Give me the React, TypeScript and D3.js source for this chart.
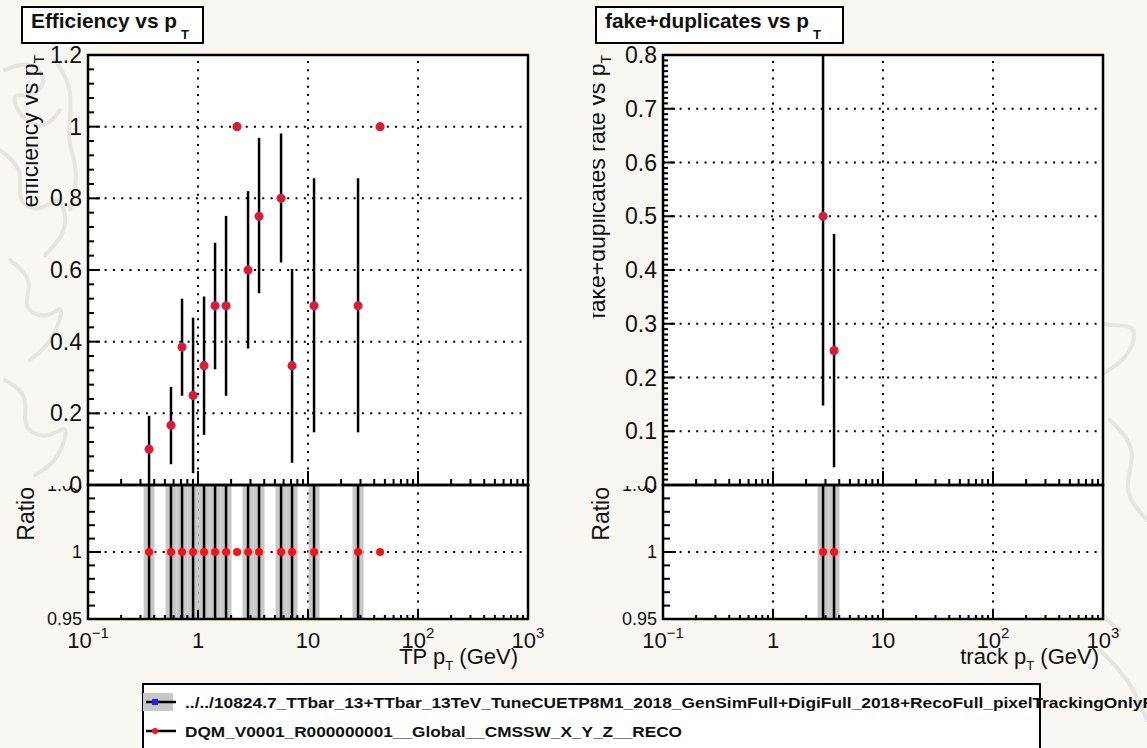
import React from "react";
import * as d3 from "d3";

// bin centres (GeV) of the pT histogram, log-spaced bins of 0.1 decade
const ptCenters = [0.359, 0.568, 0.716, 0.902, 1.135, 1.429, 1.799, 2.265, 2.851, 3.589, 5.689, 7.162, 11.35, 28.51, 45.19];
const effValues = [0.1, 0.167, 0.385, 0.25, 0.333, 0.5, 0.5, 1.0, 0.6, 0.75, 0.8, 0.333, 0.5, 0.5, 1.0];
const effLow = [0, 0.058, 0.249, 0.033, 0.14, 0.323, 0.249, 1.0, 0.381, 0.535, 0.621, 0.062, 0.147, 0.147, 1.0];
const effHigh = [0.193, 0.274, 0.52, 0.467, 0.526, 0.676, 0.751, 1.0, 0.82, 0.969, 0.981, 0.603, 0.856, 0.856, 1.0];
const effRatio = [1, 1, 1, 1, 1, 1, 1, 1, 1, 1, 1, 1, 1, 1, 1];

const fakePt = [2.851, 3.589];
const fakeValues = [0.5, 0.25];
const fakeLow = [0.148, 0.033];
const fakeHigh = [0.852, 0.467];
const fakeRatio = [1, 1];

const xTicks = [0.1, 1, 10, 100, 1000];
const effYTicks = [0, 0.2, 0.4, 0.6, 0.8, 1, 1.2];
const fakeYTicks = [0, 0.1, 0.2, 0.3, 0.4, 0.5, 0.6, 0.7, 0.8];
const ratioYTicks = [0.95, 1, 1.05];

const legendLabels = [
  "../../10824.7_TTbar_13+TTbar_13TeV_TuneCUETP8M1_2018_GenSimFull+DigiFull_2018+RecoFull_pixelTrackingOnlyF",
  "DQM_V0001_R000000001__Global__CMSSW_X_Y_Z__RECO",
];

const FONT = "'Liberation Sans', Arial, Helvetica, sans-serif";
const TOP = 55;
const MID = 485;
const BOT = 619;
const HALF_BIN = 0.05; // half bin width in log10

function xLabel(v: number) {
  const e = Math.round(Math.log10(v));
  if (e === 0) return <>1</>;
  if (e === 1) return <>10</>;
  return (
    <>
      10<tspan dy={-10} fontSize={15}>{e < 0 ? "\u2212" + -e : e}</tspan>
    </>
  );
}

const fmt = (v: number) => String(+v.toFixed(2));

function Panel(props: any) {
  const { id, x0, x1, title, titleX, titleW, titleTextW, yTitle, yTitleX, yClip, ratioX, xTitle, xTitleEnd, yMax, yTicks, yMinor, yMinorLen, pts, vals, lows, highs, ratios } = props;
  const x = d3.scaleLog().domain([0.1, 1000]).range([x0, x1]);
  const y = d3.scaleLinear().domain([0, yMax]).range([MID, TOP]);
  const yr = d3.scaleLinear().domain([0.95, 1.05]).range([BOT, MID]);
  const minorX = x.ticks();
  const minorY = d3.range(0, yMax + 1e-9, yMinor);
  const minorR = d3.range(0.95, 1.05 + 1e-9, 0.01);
  const relErr = vals.map((v: number, i: number) => (highs[i] - lows[i]) / 2 / v);
  const dot = "2 6.3";
  const isDecade = (v: number) => Math.abs(Math.log10(v) - Math.round(Math.log10(v))) < 1e-6;

  return (
    <g fontFamily={FONT}>
      <defs>
        <clipPath id={id + "up"}>
          <rect x={x0} y={TOP} width={x1 - x0} height={MID - TOP} />
        </clipPath>
        <clipPath id={id + "lo"}>
          <rect x={x0} y={MID} width={x1 - x0} height={BOT - MID} />
        </clipPath>
        <clipPath id={id + "yt"}>
          <rect x={yClip} y={0} width={200} height={MID} />
        </clipPath>
        <clipPath id={id + "rl"}>
          <rect x={0} y={MID + 1} width={x0} height={200} />
        </clipPath>
      </defs>

      {/* title box */}
      <rect x={titleX} y={7} width={titleW} height={36} fill="#fff" stroke="#000" strokeWidth={2} />
      <text x={titleX + 9} y={28} fontSize={21} fontWeight="bold" fill="#111" textLength={titleTextW} lengthAdjust="spacingAndGlyphs">
        {title}
      </text>
      <text x={titleX + 9 + titleTextW + 4} y={39} fontSize={13} fontWeight="bold" fill="#111">T</text>

      {/* frames */}
      <rect x={x0} y={TOP} width={x1 - x0} height={MID - TOP} fill="#fff" />
      <rect x={x0} y={MID} width={x1 - x0} height={BOT - MID} fill="#fff" />

      {/* grid */}
      <g stroke="#000" strokeWidth={2} strokeDasharray={dot}>
        {xTicks.slice(1, -1).map((t) => (
          <line key={"gv" + t} x1={x(t)} x2={x(t)} y1={BOT} y2={TOP} />
        ))}
        {yTicks.slice(1, -1).map((t: number) => (
          <line key={"gh" + t} x1={x0} x2={x1} y1={y(t)} y2={y(t)} />
        ))}
        <line x1={x0} x2={x1} y1={yr(1)} y2={yr(1)} />
      </g>

      {/* ratio pad: bands and error lines */}
      <g clipPath={`url(#${id}lo)`}>
        {pts.map((p: number, i: number) =>
          relErr[i] > 0 ? (
            <rect key={"b" + i} x={x(p * Math.pow(10, -HALF_BIN))} width={x(p * Math.pow(10, HALF_BIN)) - x(p * Math.pow(10, -HALF_BIN))}
              y={yr(ratios[i] + relErr[i])} height={yr(ratios[i] - relErr[i]) - yr(ratios[i] + relErr[i])} fill="#c8c8c8" />
          ) : null
        )}
        {pts.map((p: number, i: number) =>
          relErr[i] > 0 ? (
            <line key={"l" + i} x1={x(p)} x2={x(p)} y1={yr(ratios[i] + relErr[i])} y2={yr(ratios[i] - relErr[i])} stroke="#000" strokeWidth={2.5} />
          ) : null
        )}
        {pts.map((p: number, i: number) => (
          <circle key={"r" + i} cx={x(p)} cy={yr(ratios[i])} r={4} fill="#ff1010" />
        ))}
      </g>

      {/* main pad: error bars and markers */}
      <g clipPath={`url(#${id}up)`}>
        {pts.map((p: number, i: number) =>
          highs[i] > lows[i] ? (
            <line key={"e" + i} x1={x(p)} x2={x(p)} y1={y(highs[i])} y2={y(lows[i])} stroke="#000" strokeWidth={2.5} />
          ) : null
        )}
        {pts.map((p: number, i: number) => (
          <g key={"m" + i}>
            <circle cx={x(p)} cy={y(vals[i])} r={4.6} fill="#5050ff" />
            <circle cx={x(p)} cy={y(vals[i])} r={3.8} fill="#ff1010" />
          </g>
        ))}
      </g>

      {/* ticks */}
      <g stroke="#000" strokeWidth={2}>
        {minorY.map((t: number) => {
          const major = yTicks.some((m: number) => Math.abs(m - t) < 1e-6);
          return <line key={"ty" + t} x1={x0} x2={x0 + (major ? 12 : yMinorLen)} y1={y(t)} y2={y(t)} />;
        })}
        {minorR.map((t: number) => {
          const major = ratioYTicks.some((m) => Math.abs(m - t) < 1e-6);
          return <line key={"tr" + t} x1={x0} x2={x0 + (major ? 13 : 7)} y1={yr(t)} y2={yr(t)} />;
        })}
        {minorX.map((t) => (
          <line key={"tx" + t} x1={x(t)} x2={x(t)} y1={MID} y2={MID - (isDecade(t) ? 14 : 6)} />
        ))}
        {minorX.map((t) => (
          <line key={"tb" + t} x1={x(t)} x2={x(t)} y1={BOT} y2={BOT - (isDecade(t) ? 9 : 4)} />
        ))}
      </g>

      {/* frame outlines */}
      <rect x={x0} y={TOP} width={x1 - x0} height={MID - TOP} fill="none" stroke="#000" strokeWidth={2.5} />
      <rect x={x0} y={MID} width={x1 - x0} height={BOT - MID} fill="none" stroke="#000" strokeWidth={2.5} />

      {/* y labels */}
      <g fontSize={23} fill="#111" textAnchor="end" dominantBaseline="central">
        {yTicks.map((t: number) => (
          <text key={"yl" + t} x={x0 - 6} y={y(t)}>{fmt(t)}</text>
        ))}
      </g>
      <g fontSize={18} fill="#111" textAnchor="end" dominantBaseline="central">
        {ratioYTicks.map((t) => (
          <text key={"rl" + t} x={x0 - 6} y={yr(t)} clipPath={t > 1.01 ? `url(#${id}rl)` : undefined}>{fmt(t)}</text>
        ))}
      </g>

      {/* x labels */}
      <g fontSize={22} fill="#111" textAnchor="middle">
        {xTicks.map((t) => (
          <text key={"xl" + t} x={x(t)} y={648}>{xLabel(t)}</text>
        ))}
      </g>
      <text x={xTitleEnd} y={664} fontSize={22} fill="#111" textAnchor="end">
        {xTitle} p<tspan dy={6} fontSize={13}>T</tspan><tspan dy={-6}> (GeV)</tspan>
      </text>

      {/* y titles */}
      <g clipPath={`url(#${id}yt)`}>
        <text transform={`translate(${yTitleX},${TOP}) rotate(-90)`} fontSize={23} fill="#111" textAnchor="end">
          {yTitle} p<tspan dy={6} fontSize={14}>T</tspan>
        </text>
      </g>
      <text transform={`translate(${ratioX},${MID + 2}) rotate(-90)`} fontSize={23} fill="#111" textAnchor="end">Ratio</text>
    </g>
  );
}

function Watermark() {
  const curl = d3.line().curve(d3.curveBasis);
  const left: [number, number][][] = [
    [[5, 70], [30, 60], [50, 80], [30, 100], [10, 90], [20, 120], [45, 130], [60, 110]],
    [[0, 150], [25, 170], [15, 200], [40, 215], [60, 190], [70, 230], [45, 255]],
    [[10, 260], [35, 280], [20, 310], [50, 320], [65, 300], [55, 340], [30, 360]],
    [[5, 380], [30, 395], [20, 430], [50, 440], [70, 420], [60, 460], [35, 475]],
    [[55, 60], [75, 90], [65, 140], [80, 170], [70, 210]],
  ];
  const right: [number, number][][] = [
    [[1070, 300], [1100, 330], [1140, 320], [1130, 360], [1090, 380]],
    [[1110, 420], [1140, 450], [1120, 490], [1147, 520]],
    [[1060, 540], [1090, 520], [1110, 560], [1080, 600], [1120, 630]],
    [[1100, 650], [1130, 680], [1147, 720]],
  ];
  return (
    <g fill="none" stroke="#e4e1da" strokeWidth={4} strokeLinecap="round" opacity={0.8}>
      {[...left, ...right].map((p, i) => (
        <path key={i} d={curl(p) || ""} />
      ))}
    </g>
  );
}

export default function App() {
  return (
    <svg width={1147} height={748} style={{ position: "absolute", left: 0, top: 0, background: "#f8f7f2" }}>
      <Watermark />
      <Panel id="eff" x0={88} x1={528} title="Efficiency vs p" titleX={22} titleW={181} titleTextW={146}
        yTitle="efficiency vs" yTitleX={38} yClip={26} ratioX={34} xTitle="TP" xTitleEnd={518}
        yMax={1.2} yTicks={effYTicks} yMinor={0.04} yMinorLen={6}
        pts={ptCenters} vals={effValues} lows={effLow} highs={effHigh} ratios={effRatio} />
      <Panel id="fake" x0={663} x1={1103} title="fake+duplicates vs p" titleX={596} titleW={247} titleTextW={204}
        yTitle="fake+duplicates rate vs" yTitleX={605} yClip={593} ratioX={609} xTitle="track" xTitleEnd={1099}
        yMax={0.8} yTicks={fakeYTicks} yMinor={0.01} yMinorLen={5}
        pts={fakePt} vals={fakeValues} lows={fakeLow} highs={fakeHigh} ratios={fakeRatio} />

      {/* legend */}
      <g fontFamily={FONT}>
        <rect x={143} y={684} width={897} height={80} fill="#fff" stroke="#000" strokeWidth={2} />
        <rect x={143} y={693} width={30} height={18} fill="#c8c8c8" />
        <line x1={146} x2={176} y1={702} y2={702} stroke="#000" strokeWidth={2.5} />
        <rect x={152} y={699} width={6} height={6} fill="#2020ff" />
        <line x1={146} x2={176} y1={731} y2={731} stroke="#000" strokeWidth={2.5} />
        <circle cx={155} cy={731} r={3} fill="#ff1010" />
        <text x={185} y={708} fontSize={15} fontWeight="bold" fill="#111" textLength={968} lengthAdjust="spacingAndGlyphs">{legendLabels[0]}</text>
        <text x={185} y={737} fontSize={15} fontWeight="bold" fill="#111" textLength={497} lengthAdjust="spacingAndGlyphs">{legendLabels[1]}</text>
      </g>
    </svg>
  );
}
